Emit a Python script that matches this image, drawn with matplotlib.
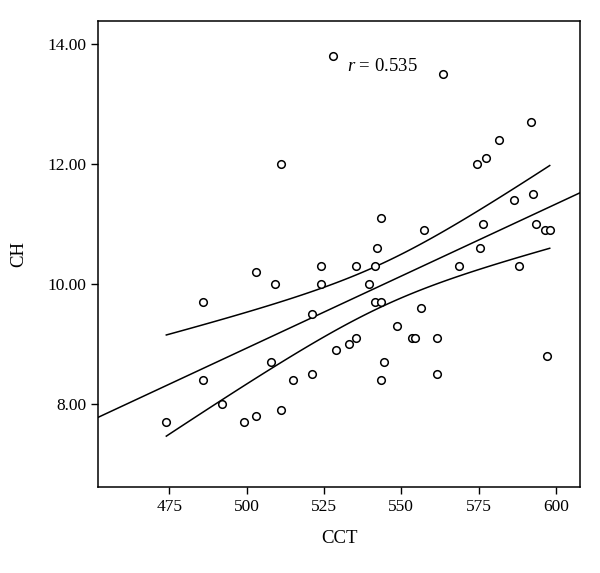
import numpy as np
import matplotlib
matplotlib.use("Agg")
import matplotlib.pyplot as plt

plt.rcParams["font.family"] = ["Liberation Serif", "DejaVu Serif"]
plt.rcParams["mathtext.fontset"] = "custom"
plt.rcParams["mathtext.it"] = "Liberation Serif:italic"
plt.rcParams["mathtext.rm"] = "Liberation Serif"

# values
cct = [528, 511, 563.5, 592, 581.5, 577.5, 574.5, 592.5, 586.5, 543.5,
       557.5, 576.5, 593.5, 596.5, 598, 542, 575.5, 535.5, 541.5, 568.5,
       588, 539.5, 541.5, 543.5, 556.5, 548.5, 533, 535.5, 553.5, 554.5,
       561.5, 544.5, 597, 543.5, 561.5, 524, 503, 509, 524, 486,
       521, 529, 508, 486, 521, 515, 492, 474, 499, 503, 511]
ch = [13.8, 12.0, 13.5, 12.7, 12.4, 12.1, 12.0, 11.5, 11.4, 11.1,
      10.9, 11.0, 11.0, 10.9, 10.9, 10.6, 10.6, 10.3, 10.3, 10.3,
      10.3, 10.0, 9.7, 9.7, 9.6, 9.3, 9.0, 9.1, 9.1, 9.1,
      9.1, 8.7, 8.8, 8.4, 8.5, 10.3, 10.2, 10.0, 10.0, 9.7,
      9.5, 8.9, 8.7, 8.4, 8.5, 8.4, 8.0, 7.7, 7.7, 7.8, 7.9]
x_ticks = [475, 500, 525, 550, 575, 600]
y_ticks = [8, 10, 12, 14]
r_label = "0.535"

x = np.array(cct)
y = np.array(ch)
n = len(x)
# linear fit + 95% band for the mean
slope, intercept = np.polyfit(x, y, 1)
resid = y - (intercept + slope * x)
s = np.sqrt((resid ** 2).sum() / (n - 2))
sxx = ((x - x.mean()) ** 2).sum()
t = 2.01  # ~t(0.975, n-2)

fig = plt.figure(figsize=(6, 5.73), dpi=100)
ax = fig.add_axes([0.1633, 0.150, 0.8034, 0.8134])
xlim = (451.9, 607.8)
ax.set_xlim(xlim)
ax.set_ylim(6.62, 14.38)

xf = np.linspace(xlim[0], xlim[1], 50)
ax.plot(xf, intercept + slope * xf, color="black", lw=1.1)
xc = np.linspace(x.min(), x.max(), 100)
half = t * s * np.sqrt(1 / n + (xc - x.mean()) ** 2 / sxx)
fit_c = intercept + slope * xc
ax.plot(xc, fit_c + half, color="black", lw=1.1)
ax.plot(xc, fit_c - half, color="black", lw=1.1)

ax.scatter(x, y, s=30, facecolors="white", edgecolors="black", linewidths=1.1, zorder=3)

ax.text(532.3, 13.63, "$r$ = " + r_label, fontsize=13.5, va="center", ha="left")

ax.set_xticks(x_ticks)
ax.set_yticks(y_ticks)
ax.set_yticklabels([f"{v:.2f}" for v in y_ticks])
ax.tick_params(direction="out", length=5, width=1, labelsize=12.5, colors="black")
for sp in ax.spines.values():
    sp.set_linewidth(1.1)
ax.set_xlabel("CCT", fontsize=13.5, labelpad=11)
ax.set_ylabel("CH", fontsize=13.5, labelpad=14)

fig.savefig("out.png", dpi=100, facecolor="white")
